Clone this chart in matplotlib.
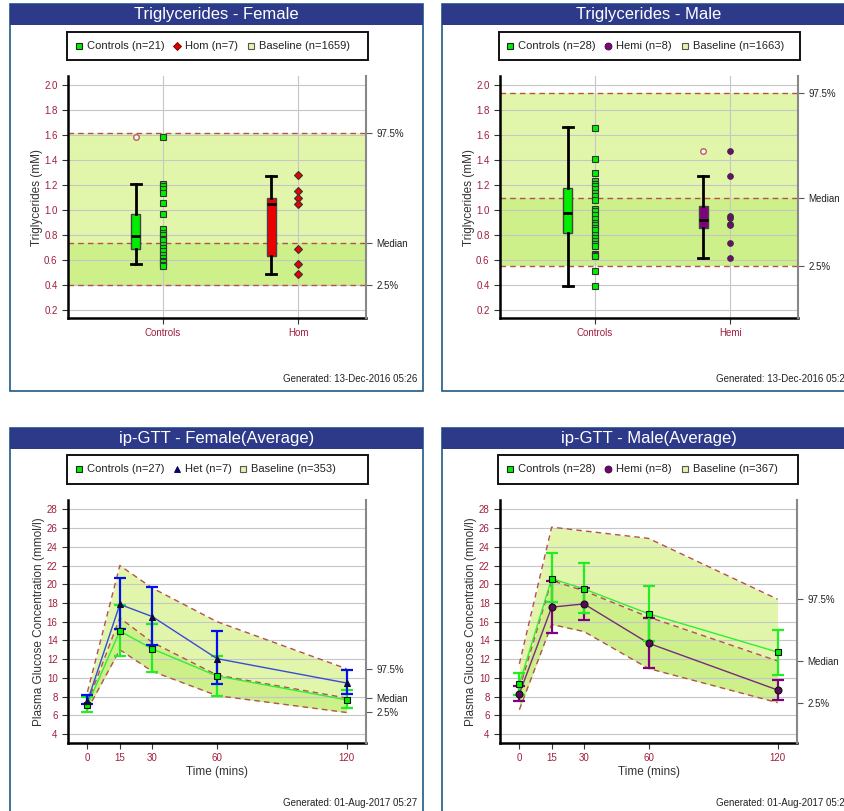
import matplotlib
matplotlib.use('Agg')
import matplotlib.pyplot as plt
from matplotlib.patches import Rectangle
from matplotlib.lines import Line2D
import numpy as np

plt.rcParams['font.family'] = ['Liberation Sans', 'DejaVu Sans']

W, H = 845, 811

# ---------------- data: triglycerides ----------------
tg_f_categories = ['Controls', 'Hom']
tg_m_categories = ['Controls', 'Hemi']

tg_f_controls = [1.59, 1.21, 1.19, 1.17, 1.14, 1.06, 0.97, 0.85, 0.82, 0.80, 0.77,
                 0.76, 0.72, 0.70, 0.67, 0.64, 0.62, 0.59, 0.58, 0.56, 0.55]
tg_f_hom = [1.28, 1.15, 1.10, 1.05, 0.69, 0.57, 0.49]
tg_m_controls = [1.66, 1.41, 1.30, 1.23, 1.21, 1.19, 1.17, 1.14, 1.11, 1.08, 1.01,
                 0.99, 0.96, 0.93, 0.90, 0.88, 0.86, 0.84, 0.80, 0.78, 0.75, 0.73,
                 0.71, 0.65, 0.64, 0.63, 0.51, 0.39]
tg_m_hemi = [1.47, 1.27, 0.95, 0.94, 0.89, 0.88, 0.74, 0.62]

# box stats: whisker low, q1, median, q3, whisker high
tg_f_box_controls = [0.565, 0.69, 0.79, 0.97, 1.21]
tg_f_box_hom = [0.49, 0.63, 1.05, 1.10, 1.275]
tg_m_box_controls = [0.39, 0.815, 0.98, 1.18, 1.665]
tg_m_box_hemi = [0.62, 0.855, 0.92, 1.03, 1.275]
tg_f_fliers = [[1.59], []]
tg_m_fliers = [[], [1.47]]

# baseline reference: 2.5%, median, 97.5%
tg_f_ref = [0.40, 0.74, 1.62]
tg_m_ref = [0.555, 1.093, 1.936]
tg_f_baseline_n = 1659
tg_m_baseline_n = 1663

# ---------------- data: ip-GTT ----------------
gtt_times = [0, 15, 30, 60, 120]

gtt_f_ctrl = [7.1, 15.0, 13.1, 10.2, 7.65]
gtt_f_ctrl_lo = [6.35, 12.35, 10.6, 8.05, 6.75]
gtt_f_ctrl_hi = [8.0, 17.8, 15.75, 12.35, 8.65]
gtt_f_het = [7.5, 17.85, 16.55, 12.05, 9.45]
gtt_f_het_lo = [7.2, 15.25, 13.55, 9.3, 8.25]
gtt_f_het_hi = [8.15, 20.65, 19.7, 15.0, 10.85]
gtt_f_upper = [8.5, 22.0, 19.6, 16.0, 10.97]
gtt_f_median = [7.3, 16.4, 13.8, 10.3, 7.84]
gtt_f_lower = [6.6, 13.0, 10.7, 8.1, 6.3]

gtt_m_ctrl = [9.35, 20.6, 19.5, 16.85, 12.75]
gtt_m_ctrl_lo = [8.2, 18.05, 16.95, 13.9, 10.35]
gtt_m_ctrl_hi = [10.55, 23.3, 22.25, 19.8, 15.15]
gtt_m_hemi = [8.3, 17.55, 17.9, 13.7, 8.7]
gtt_m_hemi_lo = [7.5, 14.8, 16.2, 11.1, 7.65]
gtt_m_hemi_hi = [9.15, 20.4, 19.6, 16.4, 9.8]
gtt_m_upper = [11.5, 26.1, 25.7, 24.9, 18.4]
gtt_m_median = [8.8, 20.4, 19.3, 16.5, 11.8]
gtt_m_lower = [6.6, 15.7, 14.95, 11.0, 7.35]

gtt_n = {'f_ctrl': 27, 'f_het': 7, 'f_base': 353,
         'm_ctrl': 28, 'm_hemi': 8, 'm_base': 367}

# ---------------- styles ----------------
NAVY = '#2d3a8a'
BORDER = '#1d5a86'
TICKRED = '#a01e3c'
BAND_HI = '#e1f6aa'
BAND_LO = '#cdf08a'
DASH = '#b5504f'
GRID = '#c6c6c6'

fig = plt.figure(figsize=(W / 100, H / 100), dpi=100)


def frect(x0, y0, x1, y1):
    return [x0 / W, 1 - y1 / H, (x1 - x0) / W, (y1 - y0) / H]


def panel(x0, y0, x1, y1, title, generated):
    fig.add_artist(Rectangle((x0 / W, 1 - y1 / H), (x1 - x0) / W, (y1 - y0) / H,
                             transform=fig.transFigure, facecolor='white',
                             edgecolor=BORDER, lw=1.2, zorder=-5))
    fig.add_artist(Rectangle((x0 / W, 1 - (y0 + 21) / H), (x1 - x0) / W, 21 / H,
                             transform=fig.transFigure, facecolor=NAVY,
                             edgecolor='none', zorder=-4))
    fig.text((x0 + x1) / 2 / W, 1 - (y0 + 11) / H, title, color='white',
             fontsize=12, ha='center', va='center')
    fig.text((x1 - 6) / W, 1 - (y0 + 375) / H, generated, color='#222',
             fontsize=7, ha='right', va='center')


def legend(x0, y0, x1, y1, entries):
    fig.add_artist(Rectangle((x0 / W, 1 - y1 / H), (x1 - x0) / W, (y1 - y0) / H,
                             transform=fig.transFigure, facecolor='white',
                             edgecolor='#111', lw=1.4, zorder=-3))
    yc = 1 - (y0 + y1) / 2 / H
    for mx, style, label in entries:
        fig.add_artist(Line2D([mx / W], [yc], transform=fig.transFigure,
                              ls='none', **style))
        fig.text((mx + 8) / W, yc, label, fontsize=8, color='#222',
                 ha='left', va='center')


def style_axes(ax, ref_vals, ref_labels):
    for s in ['top', 'right']:
        ax.spines[s].set_visible(False)
    for s in ['left', 'bottom']:
        ax.spines[s].set_linewidth(1.8)
        ax.spines[s].set_color('black')
    ax.tick_params(axis='both', labelsize=7, labelcolor=TICKRED, color='#333',
                   length=4, width=0.8)
    ax2 = ax.twinx()
    ax2.set_ylim(ax.get_ylim())
    for s in ['top', 'left', 'bottom']:
        ax2.spines[s].set_visible(False)
    ax2.spines['right'].set_color('#888')
    ax2.spines['right'].set_linewidth(1.5)
    ax2.set_yticks(ref_vals)
    ax2.set_yticklabels(ref_labels)
    ax2.tick_params(axis='y', labelsize=7, labelcolor='#222', color='#555',
                    length=4, width=0.8)


def tg_plot(rect, cats, groups, boxes, fliers, ref, colors, markers):
    ax = fig.add_axes(rect)
    ax.set_xlim(0.3, 2.5)
    ax.set_ylim(0.135, 2.075)
    lo, med, hi = ref
    ax.axhspan(lo, med, color=BAND_LO, lw=0, zorder=0)
    ax.axhspan(med, hi, color=BAND_HI, lw=0, zorder=0)
    for v in ref:
        ax.axhline(v, color=DASH, ls=(0, (4, 3)), lw=1, zorder=2)
    ax.set_axisbelow('line')
    ax.grid(True, color=GRID, lw=0.8)
    pos = np.arange(1, len(cats) + 1)
    for i, (b, fl) in enumerate(zip(boxes, fliers)):
        stats = [dict(whislo=b[0], q1=b[1], med=b[2], q3=b[3], whishi=b[4], fliers=fl)]
        ax.bxp(stats, positions=[pos[i] - 0.2], widths=0.065, patch_artist=True,
               boxprops=dict(facecolor=colors[i], edgecolor='#444', lw=1),
               medianprops=dict(color='black', lw=2),
               whiskerprops=dict(color='black', lw=2),
               capprops=dict(color='black', lw=2), capwidths=0.075,
               flierprops=dict(marker='o', markerfacecolor='white',
                               markeredgecolor='#c05a5a', markersize=4,
                               markeredgewidth=1),
               manage_ticks=False, zorder=3)
        ax.plot(np.full(len(groups[i]), pos[i]), groups[i], ls='none',
                marker=markers[i], color=colors[i], markeredgecolor='#333',
                markeredgewidth=0.8, markersize=5 if markers[i] == 's' else 4,
                zorder=4)
    ax.set_xticks(pos)
    ax.set_xticklabels(cats)
    yt = np.arange(0.2, 2.01, 0.2)
    ax.set_yticks(yt)
    ax.set_yticklabels([f'{v:.1f}' for v in yt])
    ax.set_ylabel('Triglycerides (mM)', fontsize=8.5, color='#333', labelpad=1)
    style_axes(ax, [hi, med, lo], ['97.5%', 'Median', '2.5%'])
    return ax


def gtt_plot(rect, upper, median, lower, series):
    ax = fig.add_axes(rect)
    ax.set_xlim(-9, 129)
    ax.set_ylim(3.04, 29.0)
    ax.fill_between(gtt_times, lower, median, color=BAND_LO, lw=0, zorder=0)
    ax.fill_between(gtt_times, median, upper, color=BAND_HI, lw=0, zorder=0)
    for band in (upper, median, lower):
        ax.plot(gtt_times, band, color=DASH, ls=(0, (4, 3)), lw=1, zorder=2)
    ax.set_axisbelow('line')
    ax.grid(True, axis='y', color=GRID, lw=0.8)
    for vals, lo, hi, lcol, ecol, mcol, mk in series:
        vals = np.array(vals)
        yerr = [vals - np.array(lo), np.array(hi) - vals]
        ax.plot(gtt_times, vals, color=lcol, lw=1, zorder=3)
        ax.errorbar(gtt_times, vals, yerr=yerr, fmt='none', ecolor=ecol,
                    elinewidth=1.6, capsize=4.3, capthick=1.6, zorder=3)
        ax.plot(gtt_times, vals, ls='none', marker=mk, color=mcol,
                markeredgecolor='#111', markeredgewidth=0.8,
                markersize=5, zorder=4)
    ax.set_xticks(gtt_times)
    ax.set_yticks(np.arange(4, 29, 2))
    ax.set_xlabel('Time (mins)', fontsize=8.5, color='#333', labelpad=2)
    ax.set_ylabel('Plasma Glucose Concentration (mmol/l)', fontsize=8.5,
                  color='#333', labelpad=1)
    style_axes(ax, [upper[-1], median[-1], lower[-1]], ['97.5%', 'Median', '2.5%'])
    return ax


# ---------------- panels ----------------
panel(10, 4, 423, 391, 'Triglycerides - Female', 'Generated: 13-Dec-2016 05:26')
panel(442, 4, 856, 391, 'Triglycerides - Male', 'Generated: 13-Dec-2016 05:26')
panel(10, 428, 423, 815, 'ip-GTT - Female(Average)', 'Generated: 01-Aug-2017 05:27')
panel(442, 428, 856, 815, 'ip-GTT - Male(Average)', 'Generated: 01-Aug-2017 05:27')

sq = lambda c: dict(marker='s', markersize=5, markerfacecolor=c,
                    markeredgecolor='#222', markeredgewidth=0.8)
base = dict(marker='s', markersize=5, markerfacecolor=BAND_HI,
            markeredgecolor='#555', markeredgewidth=0.8)

legend(67, 32, 368, 60, [
    (79, sq('#00ee00'), f'Controls (n={len(tg_f_controls)})'),
    (177, dict(marker='D', markersize=3.8, markerfacecolor='#e00000',
               markeredgecolor='#600', markeredgewidth=0.6), f'Hom (n={len(tg_f_hom)})'),
    (251, base, f'Baseline (n={tg_f_baseline_n})')])
legend(499, 32, 800, 60, [
    (510, sq('#00ee00'), f'Controls (n={len(tg_m_controls)})'),
    (608, dict(marker='o', markersize=5, markerfacecolor='#7a0a7a',
               markeredgecolor='#400040', markeredgewidth=0.6), f'Hemi (n={len(tg_m_hemi)})'),
    (685, base, f'Baseline (n={tg_m_baseline_n})')])
legend(67, 455, 368, 484, [
    (79, sq('#00ee00'), f"Controls (n={gtt_n['f_ctrl']})"),
    (177, dict(marker='^', markersize=5, markerfacecolor='#000080',
               markeredgecolor='#000040', markeredgewidth=0.6), f"Het (n={gtt_n['f_het']})"),
    (243, base, f"Baseline (n={gtt_n['f_base']})")])
legend(498, 455, 798, 484, [
    (510, sq('#00ee00'), f"Controls (n={gtt_n['m_ctrl']})"),
    (608, dict(marker='o', markersize=5, markerfacecolor='#6a0a6a',
               markeredgecolor='#400040', markeredgewidth=0.6), f"Hemi (n={gtt_n['m_hemi']})"),
    (685, base, f"Baseline (n={gtt_n['m_base']})")])

tg_plot(frect(68, 76, 366, 318), tg_f_categories, [tg_f_controls, tg_f_hom],
        [tg_f_box_controls, tg_f_box_hom], tg_f_fliers, tg_f_ref,
        ['#00ee00', '#ee0000'], ['s', 'D'])
tg_plot(frect(500, 76, 798, 318), tg_m_categories, [tg_m_controls, tg_m_hemi],
        [tg_m_box_controls, tg_m_box_hemi], tg_m_fliers, tg_m_ref,
        ['#00ee00', '#800080'], ['s', 'o'])

gtt_plot(frect(68, 500, 366, 743), gtt_f_upper, gtt_f_median, gtt_f_lower, [
    (gtt_f_ctrl, gtt_f_ctrl_lo, gtt_f_ctrl_hi, '#33ee33', '#22ee22', '#00ee00', 's'),
    (gtt_f_het, gtt_f_het_lo, gtt_f_het_hi, '#3a4ad8', '#0010ee', '#000080', '^')])
gtt_plot(frect(500, 500, 797, 743), gtt_m_upper, gtt_m_median, gtt_m_lower, [
    (gtt_m_hemi, gtt_m_hemi_lo, gtt_m_hemi_hi, '#7a2a7a', '#800080', '#5a0a5a', 'o'),
    (gtt_m_ctrl, gtt_m_ctrl_lo, gtt_m_ctrl_hi, '#33ee33', '#22ee22', '#00ee00', 's')])

fig.savefig('out.png', dpi=100)
